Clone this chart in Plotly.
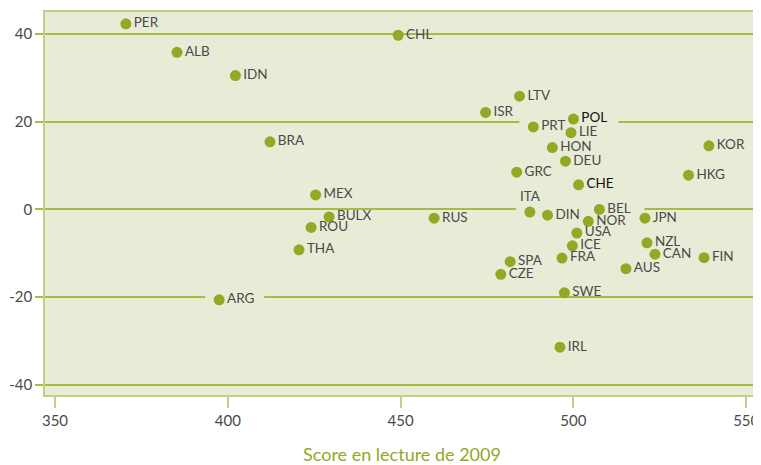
"""
Nuage de points - score en lecture PISA 2009 et variation
"""

import plotly.graph_objects as go

# Données
pays = ['PER', 'ALB', 'IDN', 'CHL', 'BRA', 'ISR', 'LTV', 'POL', 'PRT', 'LIE',
        'HON', 'DEU', 'GRC', 'CHE', 'KOR', 'HKG', 'ITA', 'DIN', 'BEL', 'NOR',
        'JPN', 'USA', 'ICE', 'FRA', 'SPA', 'CZE', 'NZL', 'CAN', 'FIN', 'AUS',
        'SWE', 'IRL', 'MEX', 'BULX', 'ROU', 'THA', 'RUS', 'ARG']
score_2009 = [370.5, 385.3, 402.2, 449.3, 412.2, 474.6, 484.4, 500.0, 488.4, 499.3,
              493.9, 497.7, 483.6, 501.5, 539.2, 533.3, 487.4, 492.5, 507.5, 504.3,
              520.7, 501.0, 499.7, 496.7, 481.7, 479.0, 521.3, 523.6, 537.8, 515.2,
              497.4, 496.1, 425.4, 429.3, 424.1, 420.6, 459.7, 397.5]
variation = [42.3, 35.8, 30.5, 39.7, 15.4, 22.1, 25.8, 20.6, 18.8, 17.5,
             14.1, 11.0, 8.5, 5.6, 14.5, 7.8, -0.6, -1.3, 0.0, -2.7,
             -2.0, -5.4, -8.3, -11.1, -11.9, -14.8, -7.6, -10.2, -11.0, -13.5,
             -19.0, -31.4, 3.3, -1.7, -4.1, -9.2, -2.0, -20.6]

x_ticks = [350, 400, 450, 500, 550]
y_ticks = [-40, -20, 0, 20, 40]
y_tick_labels = ['-40', '-20', '0', '20', '40']
titre_x = 'Score en lecture de 2009'

# Couleurs
VERT = '#93a824'
GRILLE = '#a9bb45'
CADRE = '#c3ce85'
FOND = '#e8ecd6'
TEXTE = '#4a4a4a'

# Pays dont l'étiquette coupe une ligne de grille (premier, dernier, ligne)
coupures = [('ARG', 'ARG', -20), ('PRT', 'POL', 20), ('ITA', 'BEL', 0)]

fig = go.Figure()

positions = ['top center' if p == 'ITA' else 'middle right' for p in pays]
couleurs = ['#111111' if p in ('POL', 'CHE') else TEXTE for p in pays]

fig.add_trace(
    go.Scatter(
        x=score_2009,
        y=variation,
        mode='markers+text',
        text=pays,
        textposition=positions,
        textfont=dict(family='Lato', size=13.5, color=couleurs),
        marker=dict(color=VERT, size=11),
        showlegend=False,
        cliponaxis=False
    )
)

# Interruptions des lignes de grille derrière certaines étiquettes
px_par_unite = 3.456
for premier, dernier, ligne in coupures:
    x0 = score_2009[pays.index(premier)] - 14 / px_par_unite
    x1 = score_2009[pays.index(dernier)] + 45 / px_par_unite
    fig.add_shape(
        type='rect', layer='between',
        x0=x0, x1=x1, xref='x',
        yref='y', ysizemode='pixel', yanchor=ligne, y0=-3, y1=3,
        fillcolor=FOND, line=dict(width=0)
    )

# la page ajoute une marge de 8 px autour de la figure
fig.update_layout(
    width=753, height=457,
    margin=dict(l=37, r=2, t=4, b=70),
    plot_bgcolor=FOND,
    paper_bgcolor='white',
    font=dict(family='Lato', color=TEXTE),
    xaxis=dict(
        range=[347.1, 553.7],
        tickvals=x_ticks,
        ticks='outside', ticklen=11, tickwidth=1.5, tickcolor=CADRE,
        tickfont=dict(size=15, color=TEXTE),
        showgrid=False, zeroline=False, automargin=False,
        showline=True, linecolor=CADRE, linewidth=1.5, mirror=True,
        title=dict(text=titre_x, font=dict(size=18, color=VERT), standoff=22)
    ),
    yaxis=dict(
        range=[-42.3, 45.0],
        tickvals=y_ticks, ticktext=y_tick_labels,
        ticks='outside', ticklen=8, tickwidth=1.5, tickcolor=GRILLE,
        tickfont=dict(size=15, color=TEXTE),
        showgrid=True, gridcolor=GRILLE, gridwidth=1.5,
        zeroline=False, automargin=False,
        showline=True, linecolor=CADRE, linewidth=1.5, mirror=True
    )
)

fig.write_html("out.html")
